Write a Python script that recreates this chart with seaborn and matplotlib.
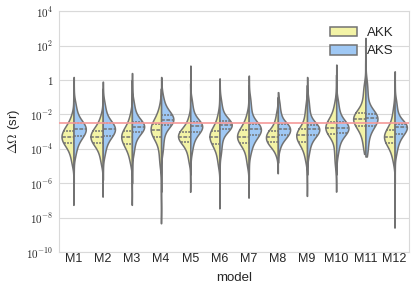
import numpy as np
import pandas as pd
import seaborn as sns
import matplotlib
matplotlib.use("Agg")
import matplotlib.pyplot as plt

# log10 of the solid angle (sr), one list per model.
# In every list the first two and last two entries are the sparse tail points,
# the 21 in between are the bulk of the distribution.
models = ["M1", "M2", "M3", "M4", "M5", "M6", "M7", "M8", "M9", "M10", "M11", "M12"]
hues = ["AKK", "AKS"]

akk_log = [
    [-7.26, -6.06, -4.85, -4.43, -4.19, -3.95, -3.77, -3.69, -3.62, -3.55, -3.47, -3.40, -3.32, -3.24, -3.17, -3.09, -3.01, -2.94, -2.86, -2.74, -2.58, -2.41, -2.05, -1.18, -0.30],
    [-6.78, -5.82, -4.85, -4.43, -4.19, -3.95, -3.77, -3.69, -3.62, -3.55, -3.47, -3.40, -3.32, -3.25, -3.18, -3.11, -3.04, -2.97, -2.90, -2.77, -2.60, -2.42, -2.05, -1.28, -0.50],
    [-7.26, -6.06, -4.85, -4.45, -4.22, -4.00, -3.83, -3.74, -3.66, -3.58, -3.49, -3.41, -3.32, -3.25, -3.18, -3.11, -3.04, -2.97, -2.90, -2.75, -2.55, -2.34, -1.95, -0.98, 0.00],
    [-8.33, -6.64, -4.95, -4.44, -4.05, -3.69, -3.40, -3.32, -3.24, -3.15, -3.07, -2.99, -2.90, -2.83, -2.76, -2.69, -2.61, -2.54, -2.47, -2.32, -2.14, -1.93, -1.55, -1.03, -0.50],
    [-6.50, -5.63, -4.75, -4.34, -4.10, -3.88, -3.70, -3.63, -3.56, -3.50, -3.43, -3.36, -3.29, -3.23, -3.18, -3.12, -3.06, -3.01, -2.95, -2.83, -2.68, -2.51, -2.15, -1.18, -0.20],
    [-7.46, -6.21, -4.95, -4.52, -4.25, -4.00, -3.80, -3.72, -3.64, -3.55, -3.47, -3.39, -3.30, -3.23, -3.17, -3.10, -3.03, -2.97, -2.90, -2.75, -2.55, -2.34, -1.95, -1.13, -0.30],
    [-6.84, -5.90, -4.95, -4.51, -4.23, -3.96, -3.75, -3.67, -3.60, -3.53, -3.45, -3.38, -3.30, -3.23, -3.15, -3.08, -3.01, -2.93, -2.86, -2.71, -2.53, -2.33, -1.95, -1.13, -0.30],
    [-5.42, -4.89, -4.35, -4.02, -3.90, -3.79, -3.70, -3.63, -3.57, -3.50, -3.43, -3.37, -3.30, -3.23, -3.17, -3.10, -3.03, -2.97, -2.90, -2.75, -2.55, -2.34, -1.95, -1.48, -1.00],
    [-6.74, -5.72, -4.70, -4.29, -4.06, -3.84, -3.67, -3.59, -3.52, -3.45, -3.37, -3.30, -3.22, -3.15, -3.08, -3.01, -2.94, -2.87, -2.80, -2.57, -2.28, -1.96, -1.50, -0.90, -0.30],
    [-6.49, -5.69, -4.89, -4.35, -3.92, -3.51, -3.19, -3.12, -3.06, -2.99, -2.92, -2.86, -2.79, -2.72, -2.65, -2.58, -2.50, -2.43, -2.36, -2.18, -1.95, -1.70, -1.29, -0.50, 0.30],
    [-4.30, -4.11, -3.92, -3.49, -3.21, -2.95, -2.75, -2.67, -2.59, -2.50, -2.42, -2.34, -2.25, -2.18, -2.12, -2.05, -1.98, -1.92, -1.85, -1.57, -1.21, -0.83, -0.32, 0.84, 2.00],
    [-8.58, -6.67, -4.75, -4.34, -4.11, -3.88, -3.71, -3.64, -3.57, -3.50, -3.43, -3.36, -3.29, -3.22, -3.14, -3.07, -3.00, -2.92, -2.85, -2.64, -2.38, -2.09, -1.65, -0.98, -0.30],
]

aks_log = [
    [-6.00, -5.18, -4.35, -3.94, -3.71, -3.49, -3.32, -3.24, -3.17, -3.09, -3.01, -2.94, -2.86, -2.79, -2.72, -2.66, -2.59, -2.52, -2.45, -2.26, -2.03, -1.77, -1.35, -0.59, 0.17],
    [-5.80, -5.08, -4.35, -3.94, -3.70, -3.48, -3.30, -3.23, -3.15, -3.08, -3.01, -2.93, -2.86, -2.79, -2.72, -2.66, -2.59, -2.52, -2.45, -2.26, -2.03, -1.77, -1.35, -0.73, -0.10],
    [-6.00, -5.13, -4.25, -3.82, -3.55, -3.29, -3.09, -3.03, -2.96, -2.90, -2.84, -2.77, -2.71, -2.65, -2.59, -2.54, -2.48, -2.42, -2.36, -2.17, -1.93, -1.67, -1.25, -0.43, 0.40],
    [-6.50, -5.33, -4.15, -3.66, -3.30, -2.96, -2.70, -2.63, -2.57, -2.50, -2.43, -2.37, -2.30, -2.24, -2.18, -2.13, -2.07, -2.01, -1.95, -1.79, -1.58, -1.35, -0.95, -0.39, 0.17],
    [-5.50, -4.83, -4.15, -3.74, -3.50, -3.27, -3.09, -3.02, -2.96, -2.90, -2.83, -2.77, -2.70, -2.65, -2.59, -2.54, -2.49, -2.43, -2.38, -2.18, -1.92, -1.64, -1.20, -0.19, 0.83],
    [-6.00, -5.13, -4.25, -3.79, -3.47, -3.17, -2.94, -2.88, -2.83, -2.78, -2.72, -2.67, -2.61, -2.56, -2.51, -2.47, -2.42, -2.37, -2.32, -2.13, -1.89, -1.62, -1.20, -0.56, 0.09],
    [-5.80, -5.03, -4.25, -3.86, -3.65, -3.45, -3.29, -3.22, -3.15, -3.08, -3.00, -2.93, -2.86, -2.80, -2.74, -2.68, -2.62, -2.56, -2.50, -2.25, -1.93, -1.58, -1.10, -0.43, 0.25],
    [-4.80, -4.38, -3.95, -3.61, -3.48, -3.35, -3.25, -3.18, -3.12, -3.06, -2.99, -2.93, -2.86, -2.80, -2.74, -2.68, -2.62, -2.56, -2.50, -2.31, -2.08, -1.82, -1.40, -1.06, -0.71],
    [-5.50, -4.91, -4.31, -3.90, -3.66, -3.43, -3.25, -3.19, -3.12, -3.06, -3.00, -2.93, -2.87, -2.81, -2.76, -2.71, -2.65, -2.60, -2.54, -2.30, -1.99, -1.66, -1.19, -0.51, 0.17],
    [-5.50, -4.88, -4.25, -3.83, -3.58, -3.34, -3.15, -3.09, -3.03, -2.97, -2.91, -2.85, -2.79, -2.72, -2.66, -2.60, -2.53, -2.47, -2.40, -2.19, -1.93, -1.64, -1.20, -0.16, 0.89],
    [-4.45, -4.30, -4.15, -3.67, -3.34, -3.02, -2.77, -2.67, -2.58, -2.49, -2.39, -2.30, -2.20, -2.16, -2.12, -2.08, -2.03, -1.99, -1.95, -1.61, -1.18, -0.71, -0.15, 1.15, 2.44],
    [-6.00, -5.13, -4.25, -3.84, -3.61, -3.39, -3.22, -3.14, -3.06, -2.98, -2.89, -2.81, -2.73, -2.69, -2.65, -2.62, -2.58, -2.54, -2.50, -2.28, -2.00, -1.70, -1.25, -0.38, 0.50],
]

threshold_log = -2.48
ytick_exps = [-10, -8, -6, -4, -2, 0, 2, 4]
ytick_labels = [r"$10^{-10}$", r"$10^{-8}$", r"$10^{-6}$", r"$10^{-4}$",
                r"$10^{-2}$", r"$1$", r"$10^{2}$", r"$10^{4}$"]

palette = {"AKK": "#f3f3a6", "AKS": "#9fc8f4"}
line_col = "#727272"
bulk_weight = 5  # each bulk value counts this many times against a tail point

rows = []
for i, m in enumerate(models):
    for h, vals in zip(hues, [akk_log[i], aks_log[i]]):
        tail = vals[:2] + vals[-2:]
        bulk = vals[2:-2] * bulk_weight
        for v in tail + bulk:
            rows.append({"model": m, "type": h, "domega": 10.0 ** v})
df = pd.DataFrame(rows)

sns.set_style("whitegrid", {"axes.edgecolor": ".85", "grid.color": ".85"})
plt.rcParams["font.family"] = ["Liberation Sans", "DejaVu Sans"]
plt.rcParams["mathtext.fontset"] = "cm"

fig, ax = plt.subplots(figsize=(4.15, 2.93), dpi=100)
fig.subplots_adjust(left=0.142, right=0.986, top=0.962, bottom=0.14)

# one call per model so the two halves are scaled against each other only
for i, m in enumerate(models):
    sns.violinplot(data=df[df["model"] == m], x="model", y="domega", hue="type",
                   order=models, hue_order=hues, palette=palette, saturation=1,
                   split=True, inner="quart", cut=0, bw_adjust=1.0,
                   density_norm="area", common_norm=True, width=0.84,
                   linewidth=1.1, linecolor=line_col, log_scale=True,
                   legend=(i == 0), ax=ax)

ax.axhline(10.0 ** threshold_log, color="#f59a9a", lw=1.2, zorder=5)

ax.set_ylim(1e-10, 1e4)
ax.set_yticks([10.0 ** e for e in ytick_exps])
ax.set_yticklabels(ytick_labels, fontsize=8)
ax.yaxis.set_minor_locator(matplotlib.ticker.NullLocator())
ax.set_xlim(-0.5, len(models) - 0.5)
ax.tick_params(axis="x", labelsize=9, pad=1, length=0)
ax.tick_params(axis="y", pad=4, length=0)
ax.set_xlabel("model", fontsize=9.5, labelpad=5)
ax.set_ylabel(r"$\Delta\Omega$ (sr)", fontsize=9.5, labelpad=3)

leg = ax.legend(loc="upper right", bbox_to_anchor=(0.99, 0.985), frameon=False,
                fontsize=9.5, handlelength=2.05, handleheight=0.75, labelspacing=0.45,
                handletextpad=0.8)

fig.savefig("out.png", dpi=100)
